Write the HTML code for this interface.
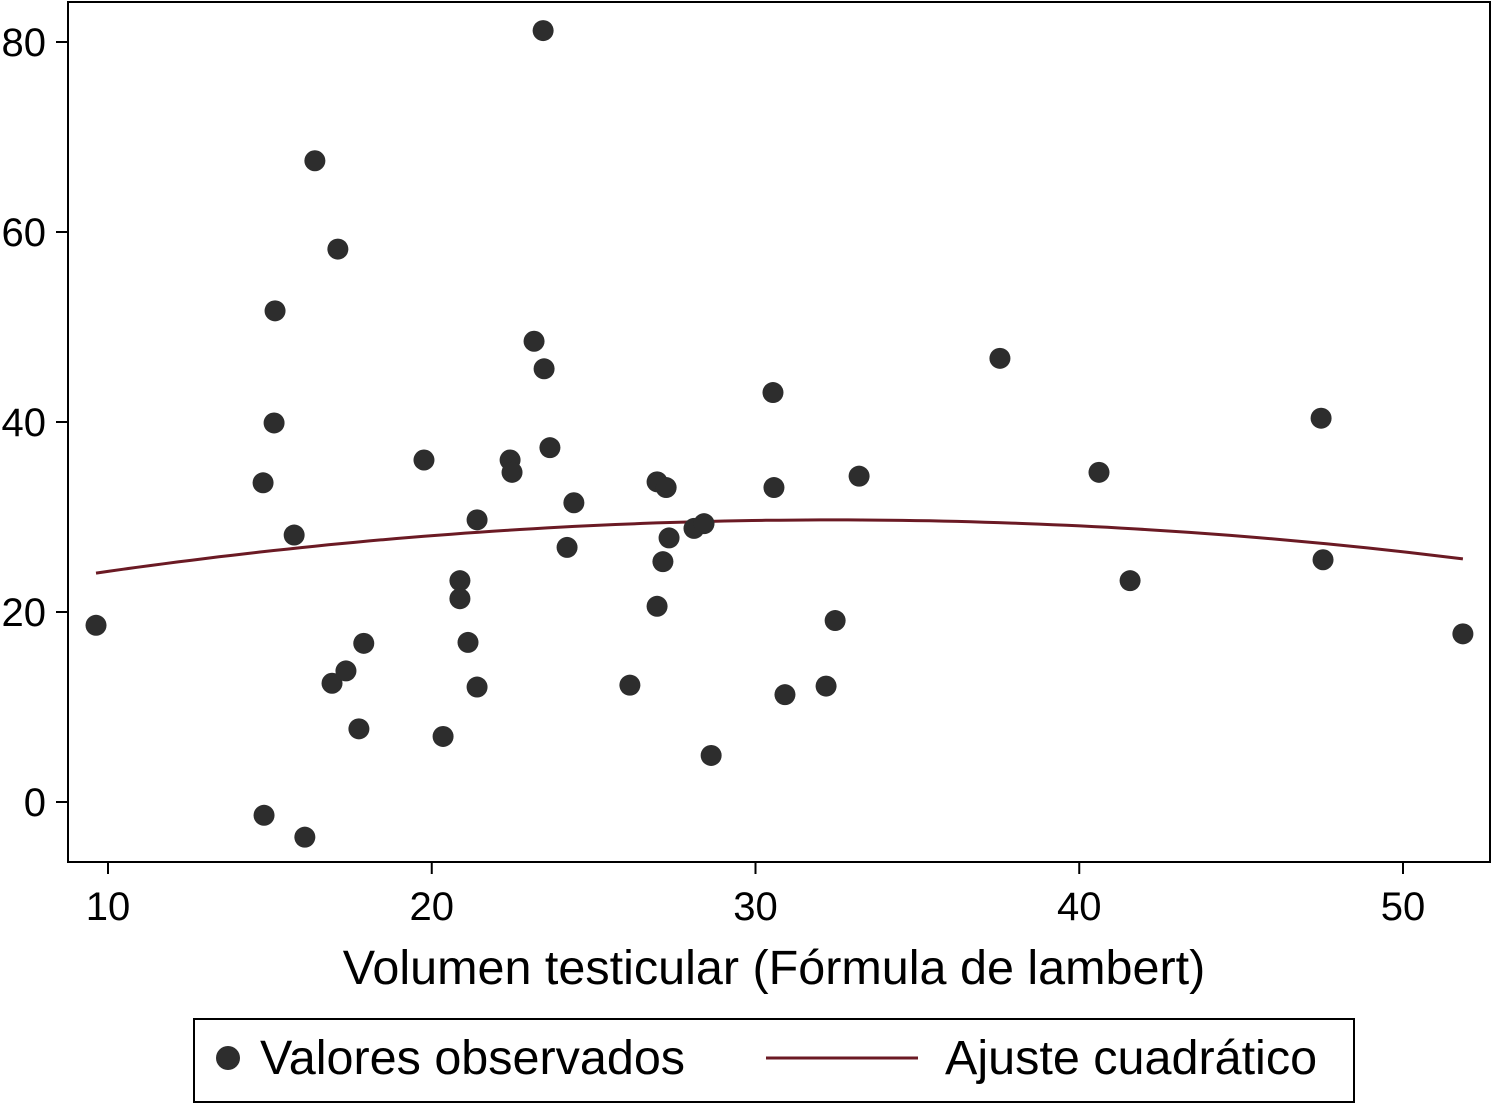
<!DOCTYPE html>
<html><head><meta charset="utf-8"><style>
body{margin:0;background:#fff;}
svg{display:block;font-family:"Liberation Sans",Arial,sans-serif;}
</style></head><body>
<svg id="chart" width="1496" height="1104">
<rect x="68" y="2" width="1422" height="860" fill="none" stroke="#000" stroke-width="2"/>
<g id="yaxis"></g>
<g id="xaxis"></g>
<g id="fit"></g>
<g id="pts"></g>
<text x="774" y="984" font-size="48.5" text-anchor="middle">Volumen testicular (Fórmula de lambert)</text>
<g>
<rect x="194" y="1019" width="1160" height="83" fill="#fff" stroke="#000" stroke-width="2"/>
<circle cx="228" cy="1058" r="12" fill="#2d2d2d"/>
<text x="260" y="1074" font-size="48.5">Valores observados</text>
<line x1="766" y1="1058" x2="918" y2="1058" stroke="#6b1a24" stroke-width="3"/>
<text x="945" y="1074" font-size="48.5">Ajuste cuadrático</text>
</g>
</svg>
<script>
const xValues=[9.63,14.82,14.79,15.13,15.16,16.08,15.75,16.39,17.1,16.92,17.35,17.9,17.75,19.76,20.35,20.87,20.87,21.12,21.4,21.4,22.42,22.48,23.16,23.44,23.47,23.65,24.18,24.39,26.12,26.96,27.24,26.96,27.14,27.33,28.1,28.41,28.63,30.54,30.57,30.91,32.18,32.46,33.2,37.55,40.61,41.57,47.47,47.53,51.85];
const yValues=[18.6,-1.4,33.6,39.9,51.7,-3.7,28.1,67.5,58.2,12.5,13.8,16.7,7.7,36.0,6.9,23.3,21.4,16.8,29.7,12.1,36.0,34.7,48.5,81.2,45.6,37.3,26.8,31.5,12.3,33.7,33.1,20.6,25.3,27.8,28.8,29.3,4.9,43.1,33.1,11.3,12.2,19.1,34.3,46.7,34.7,23.3,40.4,25.5,17.7];
const fitCoef=[18.35,0.7007,-0.01082];
const xTicks=[10,20,30,40,50];
const yTicks=[0,20,40,60,80];
const xRange=[9.63,51.85];
const NS="http://www.w3.org/2000/svg";
const sx=v=>108+(v-10)*32.375;
const sy=v=>802-v*9.5;
function mk(t,a,p){const e=document.createElementNS(NS,t);for(const k in a)e.setAttribute(k,a[k]);p.appendChild(e);return e;}
const ya=document.getElementById('yaxis');
yTicks.forEach(v=>{
 const l=mk('line',{x1:56,x2:68,y1:sy(v),y2:sy(v),stroke:'#000','stroke-width':2},ya);
 
 
 const t=mk('text',{x:46,y:sy(v)+14,'font-size':40,'text-anchor':'end'},ya);
 t.textContent=v;
 
 
});
const xa=document.getElementById('xaxis');
xTicks.forEach(v=>{
 const l=mk('line',{x1:sx(v),x2:sx(v),y1:862,y2:874,stroke:'#000','stroke-width':2},xa);
 
 
 const t=mk('text',{x:sx(v),y:920,'font-size':40,'text-anchor':'middle'},xa);
 t.textContent=v;
 
 
});
let d='';
for(let i=0;i<=100;i++){const x=xRange[0]+(xRange[1]-xRange[0])*i/100;const y=fitCoef[0]+fitCoef[1]*x+fitCoef[2]*x*x;d+=(i?'L':'M')+sx(x).toFixed(1)+','+sy(y).toFixed(1);}
const fl=mk('path',{d:d,fill:'none',stroke:'#6b1a24','stroke-width':3},document.getElementById('fit'));


const pg=document.getElementById('pts');
xValues.forEach((x,i)=>{
 const c=mk('circle',{cx:sx(x),cy:sy(yValues[i]),r:10.5,fill:'#2d2d2d'},pg);
 
 
});
</script>
</body></html>
